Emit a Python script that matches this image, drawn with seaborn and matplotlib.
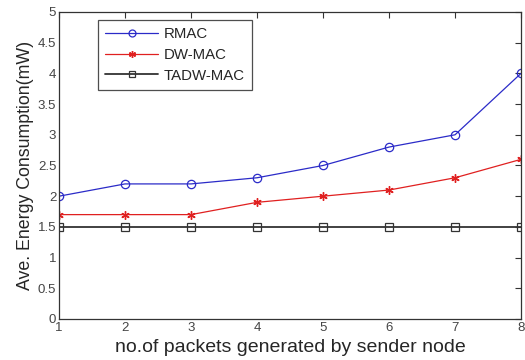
import matplotlib
matplotlib.use("Agg")
import matplotlib.pyplot as plt
import seaborn as sns

# Data
packets = [1, 2, 3, 4, 5, 6, 7, 8]
rmac = [2.0, 2.2, 2.2, 2.3, 2.5, 2.8, 3.0, 4.0]
dwmac = [1.7, 1.7, 1.7, 1.9, 2.0, 2.1, 2.3, 2.6]
tadwmac = [1.5, 1.5, 1.5, 1.5, 1.5, 1.5, 1.5, 1.5]

sns.set_style("white")
plt.rcParams["font.family"] = ["Liberation Sans", "DejaVu Sans"]

fig = plt.figure(figsize=(5.25, 3.6), dpi=100)
ax = fig.add_axes([0.1124, 0.1139, 0.88, 0.8528])

sns.lineplot(x=packets, y=rmac, ax=ax, color="#2b2bc8", lw=0.9, marker="o",
             markersize=6, markerfacecolor="none", markeredgecolor="#2b2bc8",
             markeredgewidth=0.9, label="RMAC")
sns.lineplot(x=packets, y=dwmac, ax=ax, color="#e02020", lw=0.9, marker=(6, 2, 0),
             markersize=6, markeredgecolor="#e02020", markeredgewidth=1.0,
             label="DW-MAC")
sns.lineplot(x=packets, y=tadwmac, ax=ax, color="#333333", lw=1.3, marker="s",
             markersize=6, markerfacecolor="none", markeredgecolor="#333333",
             markeredgewidth=0.9, label="TADW-MAC")

ax.set_xlim(1, 8)
ax.set_ylim(0, 5)
ax.set_xticks(packets)
ax.set_yticks([0, 0.5, 1, 1.5, 2, 2.5, 3, 3.5, 4, 4.5, 5])
ax.set_yticklabels(["0", "0.5", "1", "1.5", "2", "2.5", "3", "3.5", "4", "4.5", "5"])
ax.tick_params(direction="in", top=True, right=True, length=4, width=0.8,
               labelsize=9.5, colors="#333333", labelcolor="#444444", pad=2)
for s in ax.spines.values():
    s.set_color("#333333")
    s.set_linewidth(0.9)

ax.set_xlabel("no.of packets generated by sender node", fontsize=14, labelpad=4)
ax.set_ylabel("Ave. Energy Consumption(mW)", fontsize=12.8, labelpad=3)

leg = ax.legend(loc="upper left", bbox_to_anchor=(0.084, 0.975), frameon=True,
                fancybox=False, edgecolor="#222222", fontsize=10.8,
                handlelength=3.5, handletextpad=0.4, borderpad=0.5,
                labelspacing=0.45, borderaxespad=0)
leg.get_frame().set_linewidth(0.9)
for h in leg.legend_handles:
    h.set_markersize(5)

fig.savefig("out.png", dpi=100)
